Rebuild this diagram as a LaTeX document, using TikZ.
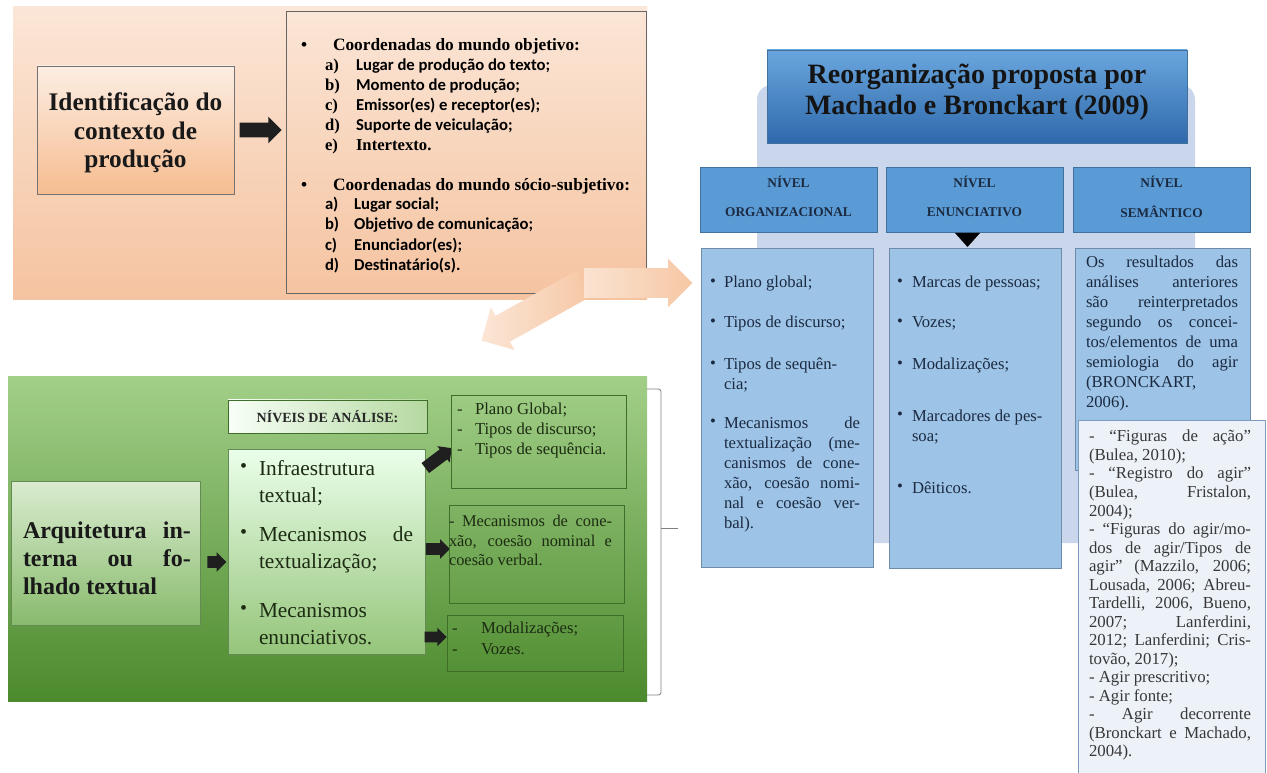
\documentclass[tikz,border=0pt]{standalone}
\usepackage{fontspec}
\setmainfont{Liberation Serif}
\newfontfamily\calfont{Carlito}
\usetikzlibrary{shapes.arrows}
\hbadness=10000 \hfuzz=20pt \vbadness=10000
\newdimen\pxu \pxu=0.75pt
\newcommand\fsz[2]{\fontsize{#1}{#2}\selectfont}
\definecolor{peachT}{HTML}{FBE6D7}
\definecolor{peachB}{HTML}{F5C3A0}
\definecolor{peachArr}{HTML}{F6C7A4}
\definecolor{greenT}{HTML}{A2CF88}
\definecolor{greenB}{HTML}{4C8A2D}
\definecolor{greenLine}{HTML}{3F6E2B}
\definecolor{greenTxt}{HTML}{1C2B12}
\definecolor{lav}{HTML}{C9D6EC}
\definecolor{titleT}{HTML}{6AA6DD}
\definecolor{titleB}{HTML}{2F69AC}
\definecolor{hdr}{HTML}{5B9BD5}
\definecolor{hdrLine}{HTML}{41719C}
\definecolor{colFill}{HTML}{9DC3E6}
\definecolor{colLine}{HTML}{6F8BAA}
\definecolor{lowFill}{HTML}{EDF2F9}
\definecolor{lowLine}{HTML}{7E9CC0}
\definecolor{navyTxt}{HTML}{1B2A41}
\begin{document}
\begin{tikzpicture}[x=0.75pt,y=-0.75pt,
  every node/.style={inner sep=0pt, outer sep=0pt},
  ln/.style={text height=1.5ex, text depth=.25ex, anchor=west},
  box/.style={anchor=north west, inner sep=0pt},
  barrow/.style 2 args={single arrow, inner xsep=0pt, inner ysep=#1, single arrow head extend=#2},
  blk/.style 2 args={barrow={#1}{#2}, fill=black!88},
  para/.style={anchor=north west, align=justify, text width=#1}]
\useasboundingbox (0,0) rectangle (1267,773);
\fill[white] (0,0) rectangle (1267,773);

% ================= PEACH PART =================
\node[box, minimum width=634\pxu, minimum height=293\pxu, top color=peachT, bottom color=peachB] (pbg) at (13,7) {};
\node[box, draw=black!55, line width=0.6pt, minimum width=197\pxu, minimum height=128\pxu,
  top color=peachT!70!white, bottom color=peachB!90!orange] (idbox) at (37,66) {};
\node[font=\bfseries\fsz{19}{21.5}, align=center, text=black!90] (idtxt) at (135.5,133) {Identificação do\\contexto de\\produção};
\node[blk={7\pxu}{6\pxu}, minimum height=42\pxu] (arr1) at (257,130) {};
\node[box, draw=black!60, line width=0.7pt, minimum width=360\pxu, minimum height=282\pxu] (lbox) at (286,11) {};

\node[ln, font=\bfseries\fsz{13}{15}] (h1b) at (301,47) {•};
\node[ln, font=\bfseries\fsz{13}{15}] (h1) at (333,47) {Coordenadas do mundo objetivo:};
\foreach \yy/\lb/\tx [count=\i] in {67/a)/{Lugar de produção do texto;},87/b)/{Momento de produção;},107/c)/{Emissor(es) e receptor(es);},127/d)/{Suporte de veiculação;}}{
  \node[ln, font=\bfseries\fsz{12.5}{15}] (la\i) at (325,\yy) {\lb};
  \node[ln, font=\calfont\bfseries\fsz{12.5}{15}] (ta\i) at (356,\yy) {\tx};
}
\node[ln, font=\bfseries\fsz{12.5}{15}] (la5) at (325,147) {e)};
\node[ln, font=\bfseries\fsz{12.5}{15}] (ta5) at (356,147) {Intertexto.};

\node[ln, font=\bfseries\fsz{13}{15}] (h2b) at (301,187) {•};
\node[ln, font=\bfseries\fsz{13}{15}] (h2) at (333,187) {Coordenadas do mundo sócio-subjetivo:};
\foreach \yy/\lb/\tx [count=\i] in {206/a)/{Lugar social;},226/b)/{Objetivo de comunicação;},247/c)/{Enunciador(es);},267/d)/{Destinatário(s).}}{
  \node[ln, font=\calfont\bfseries\fsz{12.5}{15}] (lb\i) at (325,\yy) {\lb};
  \node[ln, font=\calfont\bfseries\fsz{12.5}{15}] (tb\i) at (354,\yy) {\tx};
}

% peach block arrows
\node[barrow={14.5\pxu}{9.5\pxu}, minimum height=117\pxu,
  rotate=209.2, left color=peachArr!45!white, right color=peachArr] (parr2) at (539,308.5) {};
\node[barrow={14.5\pxu}{9.5\pxu}, minimum height=108\pxu,
  left color=peachArr!50!white, right color=peachArr] (parr1) at (631,283) {};

% ================= GREEN PART =================
\node[box, minimum width=639\pxu, minimum height=324\pxu, top color=greenT, bottom color=greenB] (gbg) at (8,377) {};
\coordinate (brT) at (647,389);
\coordinate (brB) at (647,695);
\coordinate (brM) at (678,528);
\draw[black!50, line width=0.6pt, rounded corners=2pt] (brT) -- (661,389) -- (661,695) -- (brB);
\draw[black!50, line width=0.6pt] (661,528) -- (brM);

\node[box, draw=greenLine, line width=0.6pt, minimum width=199\pxu, minimum height=33\pxu,
  left color=white!97!green, right color=greenT!80!white] (nbox) at (228,400) {};
\node[font=\bfseries\fsz{10.5}{12}, text=black!85] (ntxt) at (327.5,417) {NÍVEIS DE ANÁLISE:};

\node[box, draw=greenLine!80, line width=0.6pt, minimum width=189\pxu, minimum height=144\pxu,
  top color=greenT!40!white, bottom color=greenT!70!greenB] (abox) at (11,481) {};
\node[para=168\pxu, font=\bfseries\fsz{18}{21}, text=black!90] (atxt) at (23,518.6) {\strut Arquitetura in-\linebreak terna ou fo-\linebreak lhado textual};

\node[box, draw=greenLine!80, line width=0.6pt, minimum width=197\pxu, minimum height=205\pxu,
  top color=white!92!green, bottom color=greenT!85!greenB] (mbox) at (228,449) {};
\foreach \yy/\tx [count=\i] in {469/{Infraestrutura\\textual;},535/{Mecanismos de\linebreak textualização;},611/{Mecanismos\\enunciativos.}}{
  \node[ln, font=\fsz{15}{20}, text=greenTxt] (mb\i) at (240,\yy) {•};
  \node[para=154\pxu, font=\fsz{16}{20}, text=greenTxt] (mt\i) at (259,\yy-12.2) {\strut\tx};
}

\node[blk={5.5\pxu}{4\pxu}, minimum height=19\pxu] (ga1) at (214,562) {};
\node[blk={6\pxu}{4\pxu}, minimum height=33\pxu, rotate=37] (ga2) at (436,460) {};
\node[blk={5.5\pxu}{4\pxu}, minimum height=24\pxu] (ga3) at (435,549) {};
\node[blk={5\pxu}{4\pxu}, minimum height=22\pxu] (ga4) at (433,637) {};

\node[box, draw=greenLine, line width=0.6pt, minimum width=175\pxu, minimum height=93\pxu] (b1) at (451,395) {};
\foreach \yy/\tx [count=\i] in {411/{Plano Global;},431/{Tipos de discurso;},451/{Tipos de sequência.}}{
  \node[ln, font=\fsz{12.5}{15}, text=greenTxt] (b1d\i) at (457,\yy) {-};
  \node[ln, font=\fsz{12.5}{15}, text=greenTxt] (b1t\i) at (475,\yy) {\tx};
}
\node[box, draw=greenLine, line width=0.6pt, minimum width=175\pxu, minimum height=98\pxu] (b2) at (449,505) {};
\node[para=163\pxu, font=\fsz{12.3}{14.6}, text=greenTxt] (b2t) at (449,513) {\strut - Mecanismos de cone-\linebreak xão, coesão nominal e\linebreak coesão verbal.};
\node[box, draw=greenLine, line width=0.6pt, minimum width=176\pxu, minimum height=56\pxu] (b3) at (447,615) {};
\node[ln, font=\fsz{12.5}{15}, text=greenTxt] (b3d1) at (452,630) {-};
\node[ln, font=\fsz{12.5}{15}, text=greenTxt] (b3t1) at (481,630) {Modalizações;};
\node[ln, font=\fsz{12.5}{15}, text=greenTxt] (b3d2) at (452,651) {-};
\node[ln, font=\fsz{12.5}{15}, text=greenTxt] (b3t2) at (481,651) {Vozes.};

% ================= BLUE PART =================
\node[box, fill=lav, rounded corners=11pt, minimum width=438\pxu, minimum height=458\pxu] (lavbg) at (757,85) {};
\node[box, draw=hdrLine, line width=0.6pt, minimum width=420\pxu, minimum height=93\pxu,
  top color=titleT, bottom color=titleB] (tbox) at (767,50) {};
\node[font=\bfseries\fsz{21}{23}, align=center, text=black!92] (ttxt) at (977,92) {Reorganização proposta por\\Machado e Bronckart (2009)};

\foreach \xx/\nm/\lab in {700/h1/ORGANIZACIONAL,886/h2/ENUNCIATIVO,1073/h3/SEMÂNTICO}{
  \node[box, fill=hdr, draw=hdrLine, line width=0.6pt, minimum width=177\pxu, minimum height=65\pxu] (\nm) at (\xx,167) {};
  \node[font=\bfseries\fsz{10}{12}, text=navyTxt] (\nm a) at (\xx+88.5,182) {NÍVEL};
  \node[font=\bfseries\fsz{10}{12}, text=navyTxt] (\nm b) at (\xx+88.5,212) {\lab};
}
\fill[black] (955,233) -- (980,233) -- (967.5,247) -- cycle;

\node[box, fill=colFill, draw=colLine, line width=0.6pt, minimum width=172\pxu, minimum height=319\pxu] (c1) at (701,248) {};
\node[box, fill=colFill, draw=colLine, line width=0.6pt, minimum width=172\pxu, minimum height=320\pxu] (c2) at (889,248) {};
\node[box, fill=colFill, draw=colLine, line width=0.6pt, minimum width=175\pxu, minimum height=222\pxu] (c3) at (1075,248) {};

\foreach \yy/\tx [count=\i] in {283/{Plano global;},323/{Tipos de discurso;},365/{Tipos de sequên-\\cia;},423/{Mecanismos de\linebreak textualização (me-\linebreak canismos de cone-\linebreak xão, coesão nomi-\linebreak nal e coesão ver-\linebreak bal).}}{
  \node[ln, font=\fsz{12.5}{15}, text=navyTxt] (c1b\i) at (710,\yy) {•};
  \node[para=136\pxu, font=\fsz{12.5}{15}, text=navyTxt] (c1t\i) at (724,\yy-9) {\strut\tx};
}
\foreach \yy/\tx [count=\i] in {283/{Marcas de pessoas;},323/{Vozes;},365/{Modalizações;},416/{Marcadores de pes-\\soa;},488/{Dêiticos.}}{
  \node[ln, font=\fsz{12.5}{15}, text=navyTxt] (c2b\i) at (897,\yy) {•};
  \node[anchor=north west, align=left, font=\fsz{12.5}{15}, text=navyTxt] (c2t\i) at (912,\yy-9) {\strut\tx};
}
\node[para=152\pxu, font=\fsz{12.5}{15}, text=navyTxt] (c3t) at (1086,254) {\strut Os resultados das\linebreak análises anteriores\linebreak são reinterpretados\linebreak segundo os concei-\linebreak tos/elementos de uma\linebreak semiologia do agir\linebreak (BRONCKART,\\ 2006).};

\node[box, fill=lowFill, draw=lowLine, line width=0.6pt, minimum width=187\pxu, minimum height=360\pxu] (c3low) at (1078,420) {};
\node[para=162\pxu, font=\fsz{12.6}{13.9}, text=black!78] (c3lt) at (1089,428.9) {\strut - “Figuras de ação”\linebreak (Bulea, 2010);\\ - “Registro do agir”\linebreak (Bulea, Fristalon,\linebreak 2004);\\ - “Figuras do agir/mo-\linebreak dos de agir/Tipos de\linebreak agir” (Mazzilo, 2006;\linebreak Lousada, 2006; Abreu-\linebreak Tardelli, 2006, Bueno,\linebreak 2007; Lanferdini,\linebreak 2012; Lanferdini; Cris-\linebreak tovão, 2017);\\ - Agir prescritivo;\\ - Agir fonte;\\ - Agir decorrente\linebreak (Bronckart e Machado,\linebreak 2004).};
\end{tikzpicture}
\end{document}
